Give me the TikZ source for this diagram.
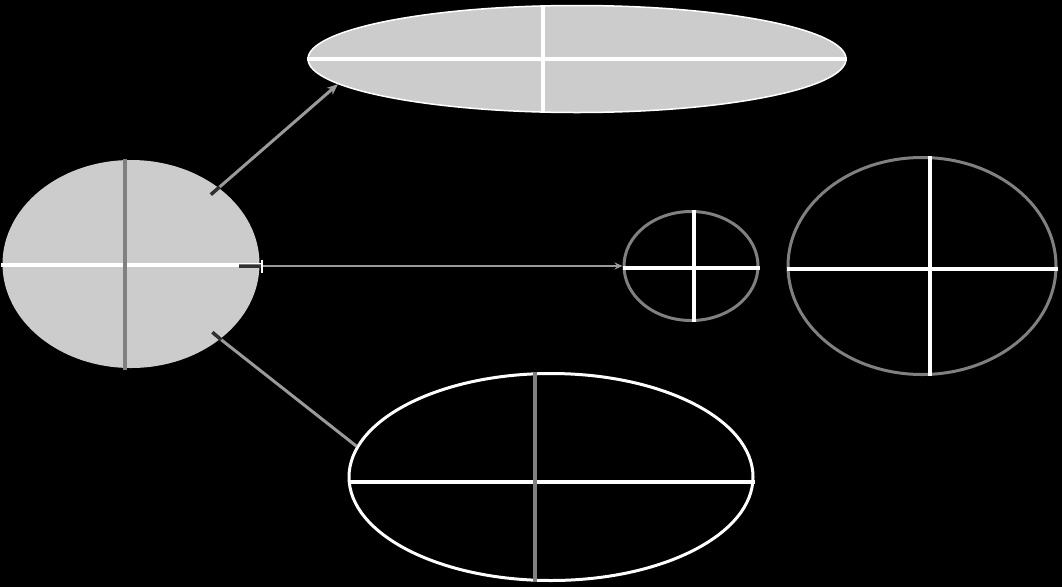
\documentclass[tikz,border=0pt]{standalone}
\usetikzlibrary{shapes.geometric,arrows.meta,calc}
\definecolor{shell}{HTML}{CCCCCC}
\definecolor{axisc}{HTML}{808080}
\definecolor{linkc}{HTML}{9A9A9A}
\definecolor{tailc}{HTML}{303030}
\begin{document}
\begin{tikzpicture}[x=1pt,y=-1pt,
	blob/.style={ellipse,inner sep=0pt,line width=3pt},
	cross/.style={white,line width=4pt},
	axisline/.style={axisc,line width=3.5pt},
	link/.style={linkc,line width=3pt,-{Stealth[length=11pt,width=9pt]}},
	tail/.style={tailc,line width=3.5pt}]
	\fill[black] (0,0) rectangle (1062,587);
	\useasboundingbox (0,0) rectangle (1062,587);
		\begin{scope}[every node/.append style={blob}]
			\node[fill=shell, minimum width=257pt, minimum height=208pt] (e0) at (131,264) {};
			\node[fill=shell, draw=white, line width=1.5pt, minimum width=538pt, minimum height=107pt] (e1) at (577,59) {};
			\node[draw=axisc, minimum width=134pt, minimum height=109pt] (e2) at (691,266) {};
			\node[draw=axisc, minimum width=268pt, minimum height=217pt] (e3) at (922,266) {};
			\node[draw=white, minimum width=404pt, minimum height=207pt] (e4) at (551,477) {};
		\end{scope}
		\coordinate (c0) at ($(e0.east)+(0,2)$);

		% axes
		\draw[cross] ($(e0.west)+(0,1)$) -- ($(e0.east)+(0,1)$) (e1.west) -- (e1.east) ($(e1.north)+(-34,0)$) -- ($(e1.south)+(-34,0)$)
		($(e2.west)+(0,2)$) -- ($(e2.east)+(0,2)$) ($(e2.north)+(3,0)$) -- ($(e2.south)+(3,0)$)
		($(e3.west)+(0,3)$) -- ($(e3.east)+(0,3)$) ($(e3.north)+(8,0)$) -- ($(e3.south)+(8,0)$)
		($(e4.west)+(0,5)$) -- ($(e4.east)+(0,5)$);
		\draw[axisline] ($(e0.north)+(-6,0)$) -- ($(e0.south)+(-6,0)$) ($(e4.north)+(-16,0)$) -- ($(e4.south)+(-16,0)$);

		% links
		\draw[tail] ($(e0.center)!0.9!(e0.41)$) -- (e0.41) ($(e0.center)!0.9!(e0.-40)$) -- (e0.-40) ($(c0)+(-22,0)$) -- (c0);
		\draw[link] (e0.41) -- (e1.186);
		\draw[link, -] (e0.-40) -- (e4.171);
		\draw[link, line width=2.5pt, {Bar[color=white,width=13pt,line width=2pt]}-{Stealth[length=8pt,width=7pt]}] (c0) -- (c0 -| e2.west);
	\end{tikzpicture}
\end{document}
